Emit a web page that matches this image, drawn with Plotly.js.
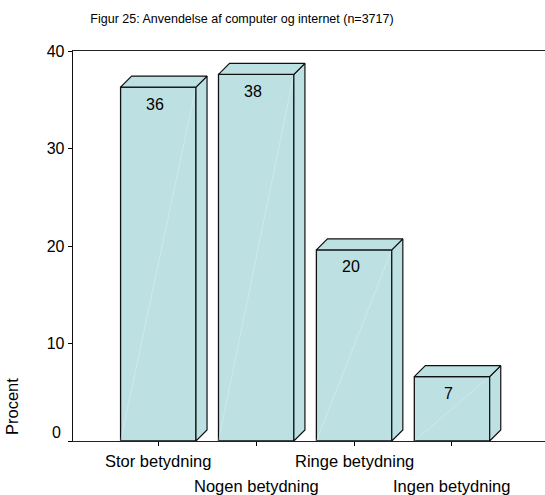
<!DOCTYPE html>
<html>
<head>
<meta charset="utf-8">
<script src="https://cdn.plot.ly/plotly-3.0.1.min.js"></script>
<style>html,body{margin:0;padding:0;background:#fff;}#chart{width:545px;height:495px;}</style>
</head>
<body>
<div id="chart"></div>
<script>
// ---- data ----
const categories = ['Stor betydning', 'Nogen betydning', 'Ringe betydning', 'Ingen betydning'];
const values = [36.3, 37.6, 19.6, 6.6];
const valueLabels = ['36', '38', '20', '7'];
const yTickVals = [0, 10, 20, 30, 40];
const yTickText = ['0', '10', '20', '30', '40'];
const chartTitle = 'Figur 25: Anvendelse af computer og internet (n=3717)';
const yTitle = 'Procent';

// ---- style ----
const FONT = 'Liberation Sans, Arial, sans-serif';
const FILL = '#bde0e3';
const EDGE = '#111';
const barWidth = 0.77;
const depthX = 0.113;   // 3D depth, category units
const depthY = 1.13;    // 3D depth, value units

const xs = categories.map((c, i) => i);
const traces = [];

traces.push({
  type: 'bar', x: xs, y: values, width: barWidth,
  marker: {color: FILL, line: {color: EDGE, width: 1.3}},
  hoverinfo: 'skip', showlegend: false
});

xs.forEach((x, i) => {
  const v = values[i];
  const xl = x - barWidth / 2, xr = x + barWidth / 2;
  // faint sheen on front face
  traces.push({type: 'scatter', mode: 'lines', x: [xl, xr], y: [0, v],
    line: {color: 'rgba(255,255,255,0.35)', width: 0.8}, hoverinfo: 'skip', showlegend: false});
  // side face
  traces.push({type: 'scatter', mode: 'lines', fill: 'toself', fillcolor: FILL,
    x: [xr, xr + depthX, xr + depthX, xr, xr], y: [0, depthY, v + depthY, v, 0],
    line: {color: EDGE, width: 1.2}, hoverinfo: 'skip', showlegend: false});
  // top face
  traces.push({type: 'scatter', mode: 'lines', fill: 'toself', fillcolor: FILL,
    x: [xl, xr, xr + depthX, xl + depthX, xl], y: [v, v, v + depthY, v + depthY, v],
    line: {color: EDGE, width: 1.2}, hoverinfo: 'skip', showlegend: false});
});

const annotations = [];
xs.forEach((x, i) => {
  annotations.push({x: x, y: values[i], xref: 'x', yref: 'y', text: valueLabels[i],
    showarrow: false, yshift: -17, xshift: -3, yanchor: 'middle',
    font: {family: FONT, size: 16, color: '#000'}});
  annotations.push({x: x, y: 0, xref: 'x', yref: 'y', text: categories[i],
    showarrow: false, yanchor: 'middle', yshift: (i % 2 === 0) ? -20 : -45,
    font: {family: FONT, size: 16.5, color: '#000'}});
});
// "0" tick label sits a little above its tick
annotations.push({x: 0, y: yTickVals[0], xref: 'paper', yref: 'y', text: yTickText[0],
  showarrow: false, xanchor: 'right', yanchor: 'middle', xshift: -10, yshift: 9,
  font: {family: FONT, size: 16, color: '#000'}});
annotations.push({x: 0, y: 0, xref: 'paper', yref: 'y', text: yTitle, textangle: -90,
  showarrow: false, xanchor: 'center', yanchor: 'middle', xshift: -61, yshift: 34,
  font: {family: FONT, size: 16.5, color: '#000'}});

const layout = {
  width: 545, height: 495,
  margin: {l: 73, r: 0, t: 51, b: 54},
  paper_bgcolor: '#fff', plot_bgcolor: '#fff',
  showlegend: false, hovermode: false,
  title: {text: chartTitle, font: {family: FONT, size: 12.5, color: '#000'},
    x: 242 / 545, xanchor: 'center', xref: 'container', y: 1 - 19 / 495, yanchor: 'middle', yref: 'container'},
  xaxis: {range: [-0.871, 3.95], tickvals: xs, ticktext: categories.map(() => ''),
    showticklabels: false, ticks: 'outside', ticklen: 4, tickcolor: '#000', tickwidth: 1,
    showline: true, linecolor: '#222', linewidth: 1.3, mirror: true,
    showgrid: false, zeroline: false, fixedrange: true},
  yaxis: {range: [0, 40], tickvals: yTickVals, ticktext: yTickText.map((t, i) => i === 0 ? '' : t),
    ticks: 'outside', ticklen: 4, tickcolor: '#000', tickwidth: 1,
    tickfont: {family: FONT, size: 16, color: '#000'},
    showline: true, linecolor: '#111', linewidth: 1.3,
    showgrid: false, zeroline: false, fixedrange: true},
  annotations: annotations
};

Plotly.newPlot('chart', traces, layout, {staticPlot: true, displayModeBar: false});
</script>
</body>
</html>
